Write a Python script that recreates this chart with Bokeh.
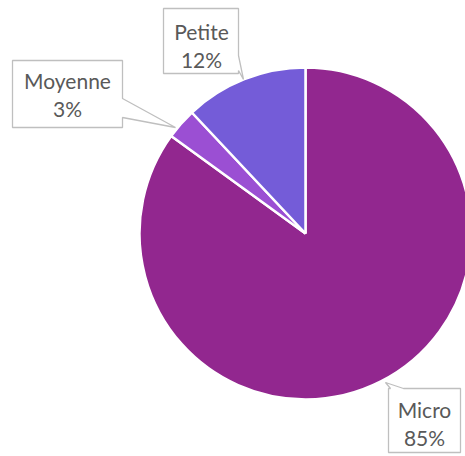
import numpy as np
from bokeh.plotting import figure
from bokeh.models import Range1d
from bokeh.core.properties import value
from bokeh.embed import file_html
from bokeh.resources import INLINE

categories = ["Micro", "Moyenne", "Petite"]
values = [85, 3, 12]
colors = ["#92278F", "#9B4FD3", "#745CD8"]

W, H = 465, 456
p = figure(width=W, height=H, output_backend="svg", toolbar_location=None,
           x_range=Range1d(0, W), y_range=Range1d(0, H), min_border=0)
p.axis.visible = False
p.grid.visible = False
p.outline_line_color = None

def Y(y):
    return H - y

cx, cy, r = 305, Y(233), 166
fr = np.array(values, dtype=float) / sum(values)
cum = np.concatenate([[0], np.cumsum(fr)])
start = np.pi / 2 - 2 * np.pi * cum[:-1]
end = np.pi / 2 - 2 * np.pi * cum[1:]
p.wedge(x=cx, y=cy, radius=r, start_angle=start, end_angle=end, direction="clock",
        fill_color=colors, line_color="white", line_width=2.5)

border = "#BFBFBF"
# callout shapes (screen coords)
callouts = {
    "Moyenne": [(12, 60), (122, 60), (122, 98), (175, 127), (122, 117), (122, 127), (12, 127)],
    "Petite": [(163, 8), (238, 8), (238, 55), (243, 79), (238, 70), (238, 73), (163, 73)],
    "Micro": [(388, 388), (390, 388), (385, 382), (403, 388), (460, 388), (460, 452), (388, 452)],
}
label_pos = {"Moyenne": (67, 80, 108), "Petite": (201, 31, 59), "Micro": (424, 409, 437)}

for cat, v in zip(categories, values):
    pts = callouts[cat]
    p.patch([q[0] for q in pts], [Y(q[1]) for q in pts], fill_color="white",
            line_color=border, line_width=1.3)
    x, y1, y2 = label_pos[cat]
    p.text(x=[x, x], y=[Y(y1), Y(y2)], text=[cat, f"{v}%"], text_align="center",
           text_baseline="middle", text_font=value("Lato"), text_font_size="21px",
           text_color="#595959")

open("out.html", "w").write(file_html(p, INLINE))
